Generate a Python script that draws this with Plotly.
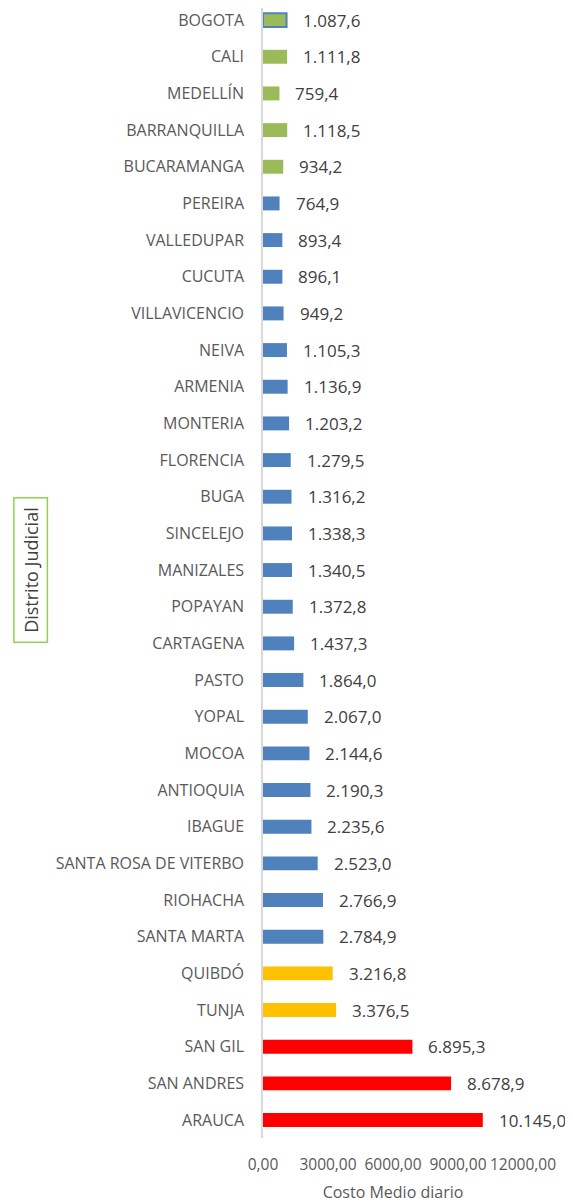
import plotly.graph_objects as go

categories = ["BOGOTA", "CALI", "MEDELLÍN", "BARRANQUILLA", "BUCARAMANGA", "PEREIRA",
              "VALLEDUPAR", "CUCUTA", "VILLAVICENCIO", "NEIVA", "ARMENIA", "MONTERIA",
              "FLORENCIA", "BUGA", "SINCELEJO", "MANIZALES", "POPAYAN", "CARTAGENA",
              "PASTO", "YOPAL", "MOCOA", "ANTIOQUIA", "IBAGUE", "SANTA ROSA DE VITERBO",
              "RIOHACHA", "SANTA MARTA", "QUIBDÓ", "TUNJA", "SAN GIL", "SAN ANDRES", "ARAUCA"]
values = [1087.6, 1111.8, 759.4, 1118.5, 934.2, 764.9, 893.4, 896.1, 949.2, 1105.3,
          1136.9, 1203.2, 1279.5, 1316.2, 1338.3, 1340.5, 1372.8, 1437.3, 1864.0, 2067.0,
          2144.6, 2190.3, 2235.6, 2523.0, 2766.9, 2784.9, 3216.8, 3376.5, 6895.3, 8678.9,
          10145.0]
groups = ["green"] * 5 + ["blue"] * 21 + ["yellow"] * 2 + ["red"] * 3
tick_values = [0, 3000, 6000, 9000, 12000]
tick_labels = ["0,00", "3000,00", "6000,00", "9000,00", "12000,00"]

palette = {"green": "#9BBB59", "blue": "#4F81BD", "yellow": "#FFC000", "red": "#FF0000"}
colors = [palette[g] for g in groups]
line_colors = ["#4F81BD" if i == 0 else c for i, c in enumerate(colors)]
line_widths = [2 if i == 0 else 0 for i in range(len(values))]


def fmt(v):
    s = f"{v:,.1f}"
    return s.replace(",", "X").replace(".", ",").replace("X", ".")


fig = go.Figure(go.Bar(
    x=values, y=categories, orientation="h",
    marker=dict(color=colors, line=dict(color=line_colors, width=line_widths)),
    width=0.38,
))

for c, v in zip(categories, values):
    fig.add_annotation(x=v, y=c, text=fmt(v), showarrow=False, xanchor="left",
                       xshift=14, font=dict(size=17, color="#404040"))

fig.add_annotation(xref="paper", yref="paper", x=-0.892, y=0.5027,
                   xanchor="center", yanchor="middle",
                   text="\u00a0Distrito Judicial\u00a0", textangle=-90, showarrow=False,
                   font=dict(size=18, color="#404040"),
                   bordercolor="#92D050", borderwidth=1.5, borderpad=4,
                   bgcolor="white")

n = len(categories)
fig.update_layout(
    width=565, height=1195,
    margin=dict(l=255, r=50, t=0, b=65),
    plot_bgcolor="white", paper_bgcolor="white",
    font=dict(family="Open Sans, Lato, sans-serif", size=16, color="#595959"),
    showlegend=False,
    xaxis=dict(range=[0, 12000], tickvals=tick_values, ticktext=tick_labels,
               showgrid=False, zeroline=False, showline=False, automargin=False,
               ticks="outside", ticklen=12, tickcolor="rgba(0,0,0,0)",
               tickfont=dict(size=15.5, color="#595959"),
               title=dict(text="Costo Medio diario", standoff=20,
                          font=dict(size=16, color="#595959"))),
    yaxis=dict(range=[n - 0.51, -0.33], showgrid=False, zeroline=False, automargin=False,
               showline=True, linecolor="#D9D9D9", linewidth=1.5,
               ticks="outside", ticklen=14, tickcolor="rgba(0,0,0,0)",
               tickfont=dict(size=16, color="#595959")),
)

fig.write_html("out.html")
